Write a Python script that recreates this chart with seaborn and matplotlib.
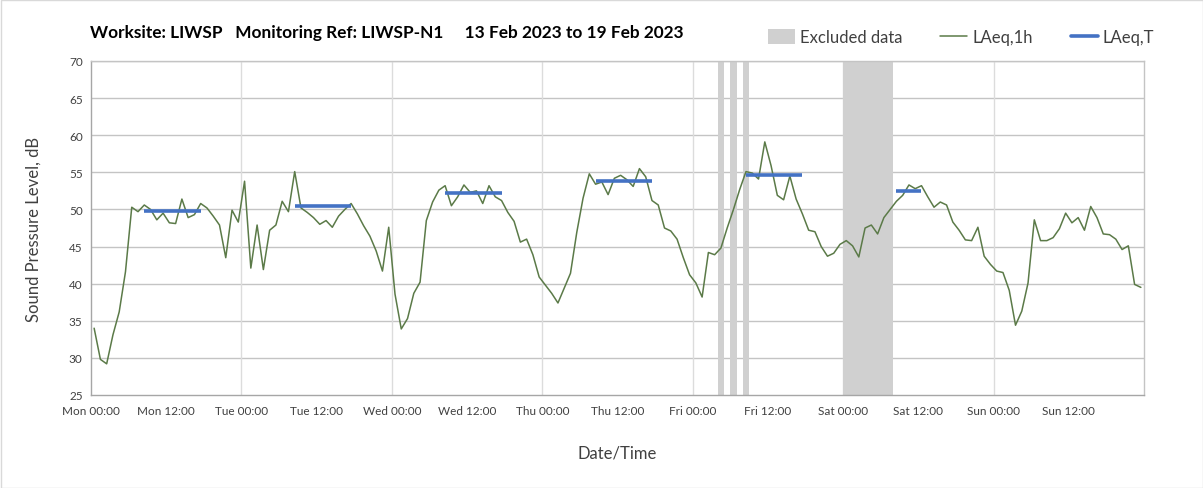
import numpy as np
import pandas as pd
import matplotlib
matplotlib.use("Agg")
import matplotlib.pyplot as plt
import seaborn as sns
from matplotlib.patches import Patch
from matplotlib.lines import Line2D

# ---------------- data ----------------
# hourly LAeq,1h values, Mon 00:00 -> Sun 23:00 (13-19 Feb 2023)
laeq_1h = [
    34.0, 29.8, 29.2, 33.1, 36.2, 41.6, 50.3, 49.7, 50.6, 50.0, 48.6, 49.5,
    48.2, 48.1, 51.4, 48.9, 49.3, 50.8, 50.2, 49.1, 47.9, 43.5, 49.9, 48.3,
    53.8, 42.1, 47.9, 41.9, 47.2, 47.9, 51.1, 49.7, 55.1, 50.2, 49.6, 48.9,
    48.0, 48.5, 47.6, 49.1, 50.0, 50.8, 49.4, 47.8, 46.4, 44.4, 41.7, 47.6,
    38.6, 33.9, 35.3, 38.7, 40.2, 48.5, 51.0, 52.6, 53.2, 50.5, 51.7, 53.3,
    52.3, 52.5, 50.8, 53.2, 51.7, 51.2, 49.6, 48.4, 45.6, 46.0, 43.9, 40.9,
    39.8, 38.7, 37.4, 39.4, 41.4, 46.9, 51.5, 54.8, 53.4, 53.7, 52.0, 54.2,
    54.6, 54.0, 53.1, 55.5, 54.4, 51.2, 50.6, 47.5, 47.1, 46.0, 43.5, 41.2,
    40.1, 38.2, 44.2, 43.9, 44.8, 47.5, 50.0, 52.7, 55.1, 54.9, 54.1, 59.1,
    55.9, 51.9, 51.3, 54.5, 51.4, 49.4, 47.2, 47.0, 45.0, 43.7, 44.1, 45.3,
    45.8, 45.1, 43.6, 47.5, 47.9, 46.7, 48.9, 50.0, 51.1, 51.9, 53.3, 52.8,
    53.2, 51.7, 50.3, 51.0, 50.6, 48.3, 47.2, 45.9, 45.8, 47.6, 43.7, 42.6,
    41.7, 41.5, 39.1, 34.4, 36.3, 40.1, 48.6, 45.8, 45.8, 46.2, 47.4, 49.5,
    48.2, 48.9, 47.2, 50.4, 48.9, 46.7, 46.6, 46.0, 44.6, 45.1, 39.9, 39.5,
]

# LAeq,T periods: first hour index, last hour index, level
period_start = [8, 32, 56, 80, 104, 128]
period_end = [17, 41, 65, 89, 113, 132]
period_laeq = [49.8, 50.4, 52.2, 53.8, 54.6, 52.5]

# excluded data (hours since Mon 00:00)
excl_start = [100, 102, 104, 120]
excl_end = [101, 103, 105, 128]

tick_hours = [0, 12, 24, 36, 48, 60, 72, 84, 96, 108, 120, 132, 144, 156, 168]
tick_labels = ["Mon 00:00", "Mon 12:00", "Tue 00:00", "Tue 12:00", "Wed 00:00",
               "Wed 12:00", "Thu 00:00", "Thu 12:00", "Fri 00:00", "Fri 12:00",
               "Sat 00:00", "Sat 12:00", "Sun 00:00", "Sun 12:00", ""]

title = "Worksite: LIWSP   Monitoring Ref: LIWSP-N1     13 Feb 2023 to 19 Feb 2023"

# ---------------- style ----------------
sns.set_theme(style="white")
plt.rcParams["font.family"] = ["Lato", "DejaVu Sans"]

GREEN = "#5b7a48"
BLUE = "#4472c4"
GREY = "#d0d0d0"

fig = plt.figure(figsize=(12.03, 4.89), dpi=100)
ax = fig.add_axes([91 / 1203, 1 - 396 / 489, (1144 - 91) / 1203, (396 - 62) / 489])

# excluded bands
for s, e in zip(excl_start, excl_end):
    ax.axvspan(s, e, color=GREY, lw=0, zorder=1)

# hourly series
df = pd.DataFrame({"hour": np.arange(len(laeq_1h)) + 0.5, "LAeq": laeq_1h})
sns.lineplot(data=df, x="hour", y="LAeq", ax=ax, color=GREEN, lw=1.1, zorder=3)

# LAeq,T lines
for s, e, v in zip(period_start, period_end, period_laeq):
    seg = pd.DataFrame({"hour": [s + 0.5, e + 0.5], "LAeq": [v, v]})
    sns.lineplot(data=seg, x="hour", y="LAeq", ax=ax, color=BLUE, lw=2.6,
                 zorder=4, solid_capstyle="butt")

ax.set_xlim(0, 168)
ax.set_ylim(25, 70)
ax.set_yticks(np.arange(25, 71, 5))
ax.set_xticks(tick_hours)
ax.set_xticklabels(tick_labels)

# grids
for y in np.arange(30, 71, 5):
    ax.axhline(y, color="#c4c4c4", lw=1.0, zorder=0)
for x in range(24, 168, 24):
    ax.axvline(x, color="#dcdcdc", lw=1.0, zorder=0)

for side in ["top", "right"]:
    ax.spines[side].set_visible(True)
    ax.spines[side].set_color("#c4c4c4")
ax.spines["left"].set_color("#a6a6a6")
ax.spines["bottom"].set_color("#a6a6a6")
for sp in ax.spines.values():
    sp.set_linewidth(1.0)

ax.tick_params(axis="both", which="both", direction="out", length=4, width=0.8,
               color="#a6a6a6", labelsize=8.5, labelcolor="#404040", pad=3)
ax.tick_params(axis="y", length=3)

ax.set_xlabel("Date/Time", fontsize=12, color="#404040", labelpad=21)
ax.set_ylabel("Sound Pressure Level, dB", fontsize=12, color="#404040", labelpad=20)

fig.text(90 / 1203, 1 - 33 / 489, title, fontsize=12.4, fontweight="bold",
         color="#000000", va="center", ha="left")

handles = [
    Patch(facecolor=GREY, edgecolor="none", label="Excluded data"),
    Line2D([0], [0], color=GREEN, lw=1.1, label="LAeq,1h"),
    Line2D([0], [0], color=BLUE, lw=2.6, label="LAeq,T"),
]
fig.legend(handles=handles, loc="center right", bbox_to_anchor=(1169 / 1203, 1 - 38 / 489),
           ncol=3, frameon=False, fontsize=12, handlelength=1.6, handleheight=1.0,
           columnspacing=2.3, handletextpad=0.3, labelcolor="#404040")

# outer chart border
fig.patches.append(plt.Rectangle((0.5 / 1203, 0.5 / 489), 1 - 1 / 1203, 1 - 1 / 489,
                                 transform=fig.transFigure, fill=False,
                                 edgecolor="#d9d9d9", lw=1.0))

fig.savefig("out.png", dpi=100)
